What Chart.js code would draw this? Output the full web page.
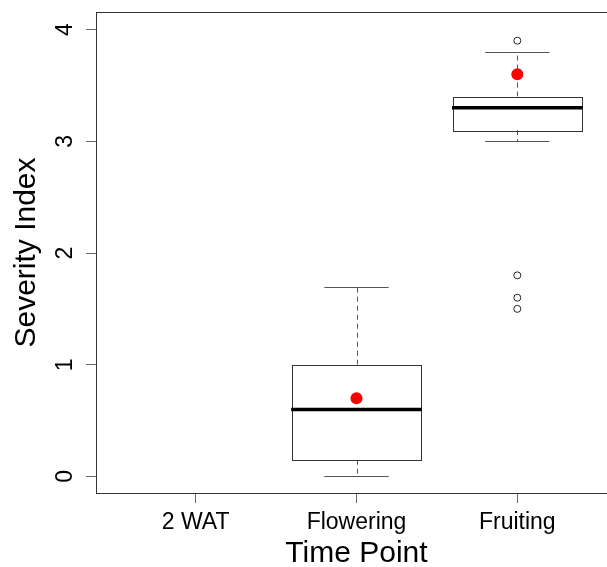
<!DOCTYPE html>
<html>
<head>
<meta charset="utf-8">
<title>Severity Index by Time Point</title>
<script src="https://cdn.jsdelivr.net/npm/chart.js@4"></script>
<style>
  html, body { margin: 0; padding: 0; background: #fff; overflow: hidden; }
  canvas { display: block; }
</style>
</head>
<body>
<!-- the plot region runs a little past the right edge of the window -->
<canvas id="chart" width="620" height="567"></canvas>
<script>
// box statistics per time point (null = nothing recorded)
const categories = ["2 WAT", "Flowering", "Fruiting"];
const whiskerLow = [null, 0.0, 3.0];
const q1 = [null, 0.15, 3.1];
const median = [null, 0.6, 3.3];
const q3 = [null, 1.0, 3.4];
const whiskerHigh = [null, 1.7, 3.8];
const means = [null, 0.7, 3.6];
const outliers = [[], [], [3.9, 1.8, 1.6, 1.5]];
const yTicks = [0, 1, 2, 3, 4];

const BOX_HALF = 0.4;
const CAP_HALF = 0.2;
const FONT = "'Liberation Sans', Arial, sans-serif";

function crisp(v) {
  return Math.round(v) + 0.5;
}

const meanPoints = [];
means.forEach((m, i) => {
  if (m != null) meanPoints.push({ x: i + 1, y: m });
});

const outlierPoints = [];
outliers.forEach((list, i) => {
  list.forEach((v) => outlierPoints.push({ x: i + 1, y: v }));
});

const boxPlugin = {
  id: "boxes",
  beforeDatasetsDraw(chart) {
    const { ctx, chartArea, scales } = chart;
    const x = scales.x, y = scales.y;
    ctx.save();

    // plot frame
    ctx.strokeStyle = "#333";
    ctx.lineWidth = 1;
    ctx.strokeRect(crisp(chartArea.left), crisp(chartArea.top),
      Math.round(chartArea.right - chartArea.left),
      Math.round(chartArea.bottom - chartArea.top));

    categories.forEach((c, i) => {
      if (median[i] == null) return;
      const cx = x.getPixelForValue(i + 1);
      const bl = x.getPixelForValue(i + 1 - BOX_HALF);
      const br = x.getPixelForValue(i + 1 + BOX_HALF);
      const cl = x.getPixelForValue(i + 1 - CAP_HALF);
      const cr = x.getPixelForValue(i + 1 + CAP_HALF);
      const yLo = y.getPixelForValue(whiskerLow[i]);
      const yQ1 = y.getPixelForValue(q1[i]);
      const yMed = y.getPixelForValue(median[i]);
      const yQ3 = y.getPixelForValue(q3[i]);
      const yHi = y.getPixelForValue(whiskerHigh[i]);

      // dashed whiskers
      ctx.strokeStyle = "#555";
      ctx.lineWidth = 1;
      ctx.setLineDash([5, 4]);
      ctx.beginPath();
      ctx.moveTo(crisp(cx), yQ3);
      ctx.lineTo(crisp(cx), yHi);
      ctx.moveTo(crisp(cx), yQ1);
      ctx.lineTo(crisp(cx), yLo);
      ctx.stroke();
      ctx.setLineDash([]);

      // whisker caps
      ctx.beginPath();
      ctx.moveTo(cl, crisp(yHi));
      ctx.lineTo(cr, crisp(yHi));
      ctx.moveTo(cl, crisp(yLo));
      ctx.lineTo(cr, crisp(yLo));
      ctx.stroke();

      // box
      ctx.fillStyle = "#fff";
      ctx.strokeStyle = "#333";
      ctx.fillRect(bl, yQ3, br - bl, yQ1 - yQ3);
      ctx.strokeRect(crisp(bl), crisp(yQ3), Math.round(br - bl), Math.round(yQ1 - yQ3));

      // median
      ctx.strokeStyle = "#000";
      ctx.lineWidth = 3.5;
      ctx.beginPath();
      ctx.moveTo(bl - 1, yMed);
      ctx.lineTo(br + 1, yMed);
      ctx.stroke();
    });
    ctx.restore();
  },
  afterDraw(chart) {
    // y tick labels, rotated like the axis title
    const { ctx, scales } = chart;
    const y = scales.y;
    ctx.save();
    ctx.fillStyle = "#000";
    ctx.font = "23px " + FONT;
    ctx.textAlign = "center";
    ctx.textBaseline = "middle";
    y.ticks.forEach((t) => {
      ctx.save();
      ctx.translate(66, y.getPixelForValue(t.value));
      ctx.rotate(-Math.PI / 2);
      ctx.fillText(String(t.value), 0, 0);
      ctx.restore();
    });
    ctx.restore();
  }
};

new Chart(document.getElementById("chart"), {
  type: "scatter",
  data: {
    datasets: [
      {
        label: "Outliers",
        data: outlierPoints,
        pointRadius: 3.5,
        pointBackgroundColor: "#fff",
        pointBorderColor: "#222",
        pointBorderWidth: 1
      },
      {
        label: "Mean",
        data: meanPoints,
        pointRadius: 6,
        pointBackgroundColor: "#ff0000",
        pointBorderColor: "#ff0000",
        pointBorderWidth: 0
      }
    ]
  },
  options: {
    responsive: false,
    animation: false,
    devicePixelRatio: 1,
    layout: {
      autoPadding: false,
      padding: { top: 12, right: 3, left: 0, bottom: 0 }
    },
    plugins: {
      legend: { display: false },
      tooltip: { enabled: false }
    },
    scales: {
      x: {
        type: "linear",
        min: 0.38,
        max: 3.62,
        afterBuildTicks: (s) => {
          s.ticks = categories.map((c, i) => ({ value: i + 1 }));
        },
        afterFit: (s) => {
          s.height = 74;
          s.paddingLeft = 0;
          s.paddingRight = 0;
        },
        border: { display: false },
        grid: { drawOnChartArea: false, tickLength: 10, color: "#666" },
        ticks: {
          autoSkip: false,
          maxRotation: 0,
          padding: 6,
          color: "#000",
          font: { family: FONT, size: 23 },
          callback: (v) => categories[v - 1]
        },
        title: {
          display: true,
          text: "Time Point",
          color: "#000",
          font: { family: FONT, size: 30, lineHeight: 1 },
          padding: { top: 0, bottom: -2 }
        }
      },
      y: {
        type: "linear",
        min: -0.148,
        max: 4.157,
        afterBuildTicks: (s) => {
          s.ticks = yTicks.map((v) => ({ value: v }));
        },
        afterFit: (s) => {
          s.width = 96;
          s.paddingTop = 0;
          s.paddingBottom = 0;
        },
        border: { display: false },
        grid: { drawOnChartArea: false, tickLength: 10, color: "#666" },
        ticks: { display: false },
        title: {
          display: true,
          text: "Severity Index",
          color: "#000",
          font: { family: FONT, size: 30, lineHeight: 1 },
          padding: { top: 12, bottom: 0 }
        }
      }
    }
  },
  plugins: [boxPlugin]
});
</script>
</body>
</html>
